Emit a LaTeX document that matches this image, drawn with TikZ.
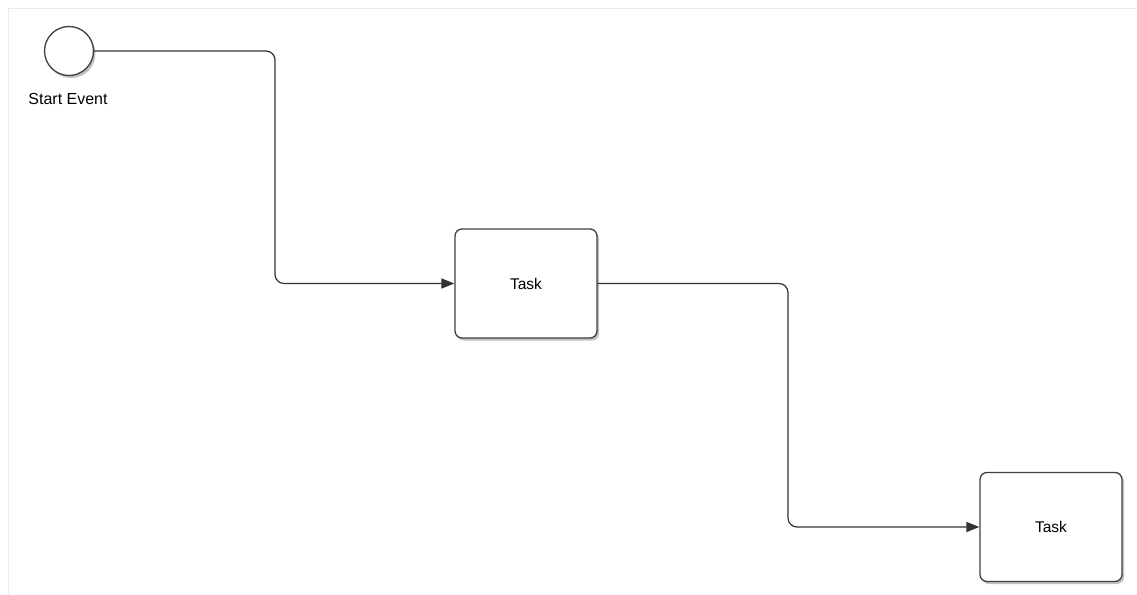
\documentclass[tikz,border=0pt]{standalone}
\usepackage{fontspec}
\setmainfont{Liberation Sans}
\usetikzlibrary{arrows.meta,shadows}
\begin{document}
\begin{tikzpicture}[x=1pt,y=-1pt,
  frameline/.style={draw=black!8,line width=1.5pt},
  taskbox/.style={draw=black!75,line width=1.3pt,fill=white,rounded corners=7pt,
    minimum width=142pt,minimum height=109pt,inner sep=0pt,
    font=\fontsize{15.5}{18}\selectfont,
    drop shadow={shadow xshift=2pt,shadow yshift=-2.5pt,fill=black!35,opacity=0.7}},
  eventnode/.style={circle,draw=black!75,line width=1.3pt,fill=white,minimum size=49pt,inner sep=0pt,
    drop shadow={shadow xshift=2pt,shadow yshift=-2.5pt,fill=black!35,opacity=0.7}},
  lbl/.style={font=\fontsize{16}{19}\selectfont,inner sep=0pt},
  flow/.style={draw=black!80,line width=1.2pt,rounded corners=9pt,-{Triangle[length=13pt,width=10pt]}}
]
\useasboundingbox (0,0) rectangle (1137,594);
\fill[white] (0,0) rectangle (1137,594);
\coordinate (ftl) at (8.5,8.5);
\coordinate (ftr) at (1137,8.5);
\coordinate (fbl) at (8.5,594);
\draw[frameline] (ftr) -- (ftl) -- (fbl);
\node[eventnode] (start) at (69,51) {};
\node[lbl] (startlbl) at (68,99) {Start Event};
\node[taskbox] (t1) at (526,283.5) {Task};
\node[taskbox] (t2) at (1051,527) {Task};
\draw[flow] (start.east) -| (275,200) |- (t1.west);
\draw[flow] (t1.east) -| (788,400) |- (t2.west);
\end{tikzpicture}
\end{document}
